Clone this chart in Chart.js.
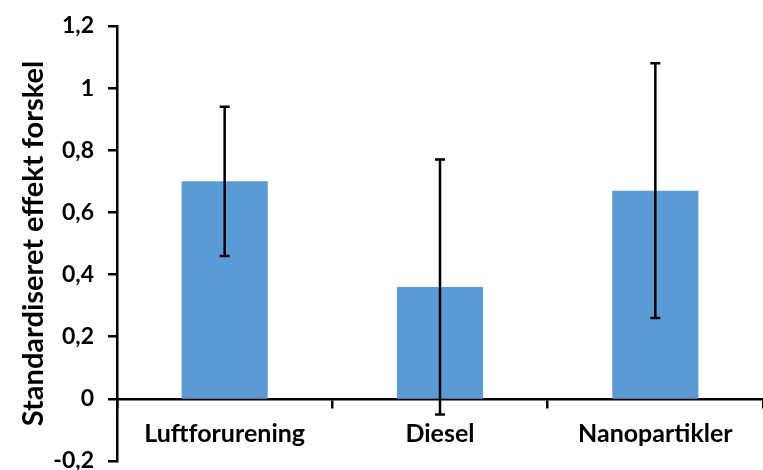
<!DOCTYPE html>
<html>
<head>
<meta charset="utf-8">
<script src="https://cdn.jsdelivr.net/npm/chart.js@4.4.1/dist/chart.umd.min.js"></script>
<style>
  html, body { margin: 0; padding: 0; background: #fff; }
  #wrap { width: 763px; height: 470px; position: relative; }
</style>
</head>
<body>
<div id="wrap"><canvas id="c"></canvas></div>
<script>
const categories = ['Luftforurening', 'Diesel', 'Nanopartikler'];
const values = [0.70, 0.36, 0.67];
const errLow = [0.46, -0.05, 0.26];
const errHigh = [0.94, 0.77, 1.08];
const yTitle = 'Standardiseret effekt forskel';

const errorBars = {
  id: 'errorBars',
  afterDatasetsDraw(chart) {
    const ctx = chart.ctx;
    const meta = chart.getDatasetMeta(0);
    const y = chart.scales.y;
    ctx.save();
    ctx.strokeStyle = '#000';
    ctx.lineWidth = 2.5;
    meta.data.forEach((bar, i) => {
      const x = bar.x;
      const yl = y.getPixelForValue(errLow[i]);
      const yh = y.getPixelForValue(errHigh[i]);
      const cap = 5;
      ctx.beginPath();
      ctx.moveTo(x, yl); ctx.lineTo(x, yh);
      ctx.moveTo(x - cap, yl); ctx.lineTo(x + cap, yl);
      ctx.moveTo(x - cap, yh); ctx.lineTo(x + cap, yh);
      ctx.stroke();
    });
    ctx.restore();
  }
};

new Chart(document.getElementById('c'), {
  type: 'bar',
  data: {
    labels: categories,
    datasets: [{
      data: values,
      backgroundColor: '#5B9BD5',
      categoryPercentage: 0.8,
      barPercentage: 0.5
    }]
  },
  options: {
    responsive: true,
    maintainAspectRatio: false,
    animation: false,
    devicePixelRatio: 1,
    layout: { padding: { top: 26, right: -3, bottom: 9, left: 0 } },
    plugins: { legend: { display: false }, tooltip: { enabled: false } },
    scales: {
      x: {
        position: { y: 0 },
        afterFit(s) { s.height = 0; },
        grid: { display: true, drawOnChartArea: false, offset: true, color: '#000', lineWidth: 2.5, tickLength: 8 },
        border: { display: true, color: '#000', width: 2.5 },
        ticks: { color: '#000', font: { family: 'Lato', weight: 'bold', size: 25 }, padding: 12 }
      },
      y: {
        min: -0.2, max: 1.2,
        afterFit(s) { s.width = 117; s.paddingTop = 0; s.paddingBottom = 0; },
        grid: { display: true, drawOnChartArea: false, color: '#000', lineWidth: 2.5, tickLength: 9 },
        border: { display: true, color: '#000', width: 2.5 },
        ticks: {
          stepSize: 0.2, color: '#000', padding: 14,
          font: { family: 'Lato', weight: 'bold', size: 23 },
          callback: v => {
            const r = Math.round(v * 10) / 10;
            return String(r).replace('.', ',');
          }
        },
        title: {
          display: true, text: yTitle, color: '#000',
          font: { family: 'Lato', weight: 'bold', size: 29 },
          padding: { top: 16, bottom: 0 }
        }
      }
    }
  },
  plugins: [errorBars]
});
</script>
</body>
</html>
